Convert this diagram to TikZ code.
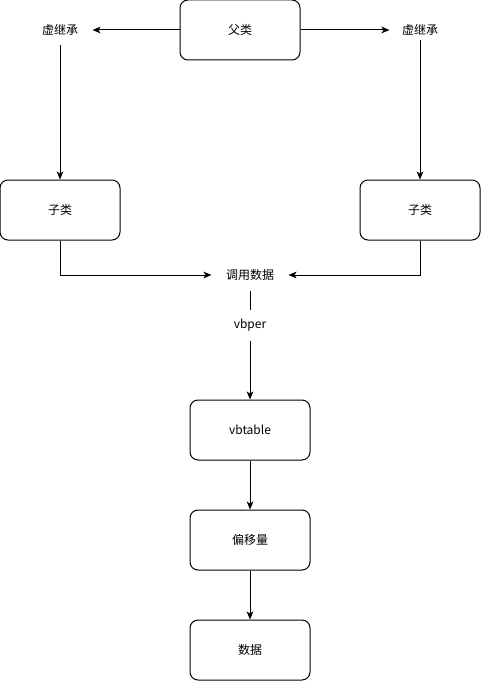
\documentclass[tikz,border=0pt]{standalone}
\usepackage{fontspec}
\setmainfont{Noto Sans CJK SC}
\usetikzlibrary{arrows.meta}

\begin{document}
\begin{tikzpicture}[x=0.75pt,y=-0.75pt,line width=0.75pt,
  >={Stealth[length=6pt,width=5pt,inset=1.5pt]},
  box/.style={draw, rounded corners=6pt, minimum width=90pt, minimum height=45pt, inner sep=0pt, font=\fontsize{9pt}{11pt}\selectfont},
  lbl/.style={inner sep=0pt, minimum height=22.5pt, font=\fontsize{9pt}{11pt}\selectfont}]
\useasboundingbox (0,0) rectangle (481,681);
% boxes
\node [box] (fu) at (240,30) {父类};
\node [box] (zl) at (60,210) {子类};
\node [box] (zr) at (420,210) {子类};
\node [box] (vt) at (250,430) {vbtable};
\node [box] (py) at (250,540) {偏移量};
\node [box] (sj) at (250,650) {数据};
% labels
\node [lbl, minimum width=48pt] (xl) at (60,30) {虚继承};
\node [lbl, minimum width=45pt, minimum height=15pt] (xr) at (420,30) {虚继承};
\node [lbl, minimum width=57pt] (dy) at (250,275) {调用数据};
\node [lbl] (vb) at (250,325) {vbper};
% connectors
\draw [->] (fu) -- (xl);
\draw [->] (fu) -- (xr);
\draw [->] (xl) -- (zl);
\draw [->] (xr) -- (zr);
\draw [->] (zl.south) |- (dy);
\draw [->] (zr.south) |- (dy);
\draw (dy) -- (vb);
\draw [->] (vb) -- (vt);
\draw [->] (vt) -- (py);
\draw [->] (py) -- (sj);
\end{tikzpicture}
\end{document}
